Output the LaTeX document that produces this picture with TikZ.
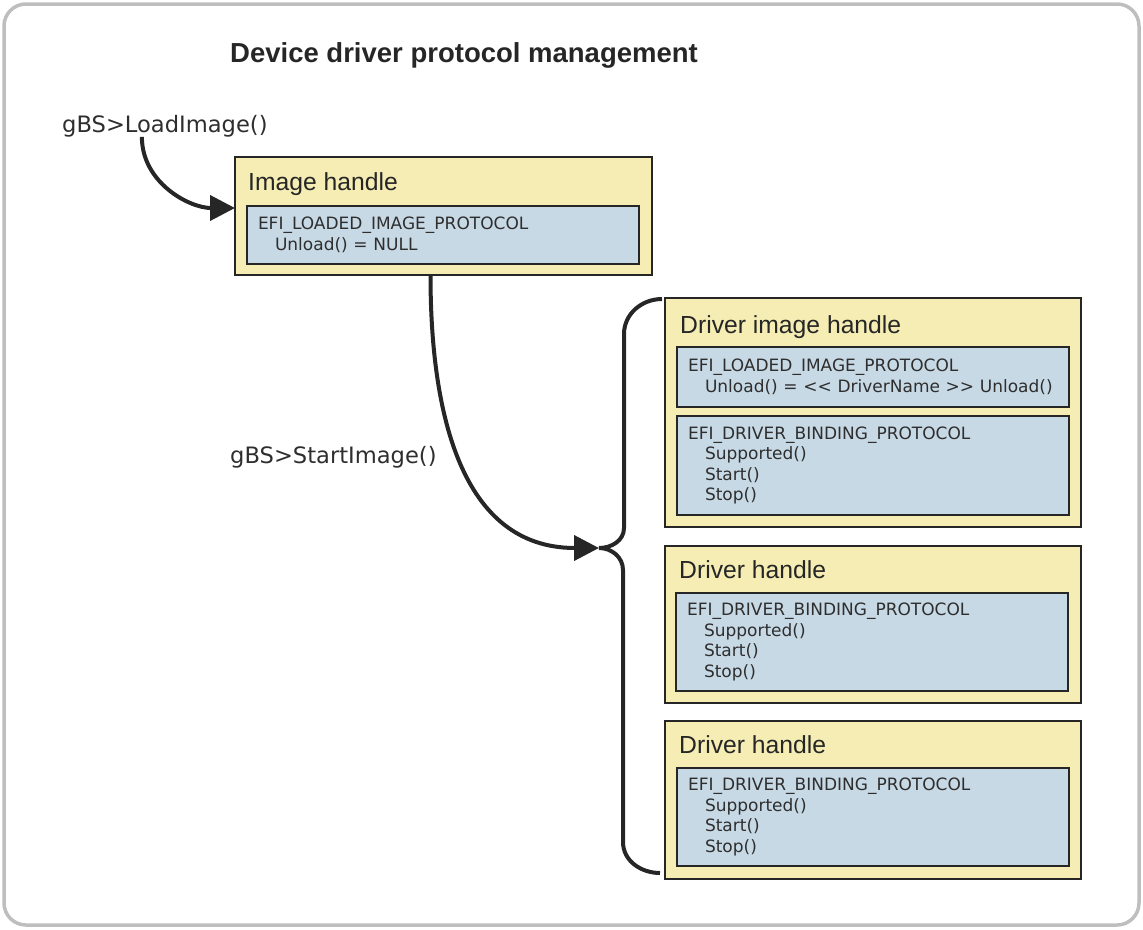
\documentclass[tikz,border=0pt]{standalone}
\usepackage{fontspec}
\setmainfont{Liberation Sans}
\newfontfamily\protofont{DejaVu Sans}
\usetikzlibrary{positioning,calc,arrows.meta}

\definecolor{handlefill}{HTML}{F5EDB3}
\definecolor{protofill}{HTML}{C8D9E6}
\definecolor{boxline}{HTML}{262626}
\definecolor{framecol}{HTML}{BEBEBE}
\definecolor{txtcol}{HTML}{2E2E2E}
\newcommand\protoind{\hspace*{17pt}}

\begin{document}
\begin{tikzpicture}[x=1pt,y=-1pt,
  frame/.style={draw=framecol,line width=3.5pt,rounded corners=22pt},
  handle/.style={draw=boxline,fill=handlefill,line width=2.6pt,anchor=north west,
    minimum width=416pt,inner sep=0pt,outer sep=0pt},
  proto/.style={draw=boxline,fill=protofill,line width=2.8pt,outer sep=0pt,
    text width=370pt,inner xsep=11pt,inner ysep=0pt,align=left,text=txtcol,
    font=\protofont\fontsize{17}{20.5}\selectfont},
  htitle/.style={anchor=base west,inner sep=0pt,text=boxline,
    font=\fontsize{24.7}{28}\selectfont},
  call/.style={anchor=base west,inner sep=0pt,text=txtcol,
    font=\protofont\fontsize{22.6}{26}\selectfont},
  flow/.style={draw=boxline,line width=4pt,-{Triangle[length=25pt,width=25pt]}},
  brace/.style={draw=boxline,line width=4pt}]
\useasboundingbox (0,0) rectangle (1143,929);
\draw[frame] (4,4) rectangle (1139,925);

\node[anchor=base west,inner sep=0pt,text=boxline,
  font=\bfseries\fontsize{27.5}{32}\selectfont] (title) at (230,62)
  {Device driver protocol management};

\node[call] (load) at (62,132) {gBS>LoadImage()};
\node[call] (start) at (230,463) {gBS>StartImage()};

% image handle
\node[handle,minimum width=417pt,minimum height=118pt] (imgh) at (235,157) {};
\node[htitle] (imghT) at ($(imgh.north west)+(13,33)$) {Image handle};
\node[proto,minimum height=58pt,below right=49pt and 12pt of imgh.north west] (imghLI)
  {EFI\_LOADED\_IMAGE\_PROTOCOL\\\protoind Unload() = NULL};

% driver image handle
\node[handle,minimum height=229pt] (dimg) at (665,298) {};
\node[htitle] (dimgT) at ($(dimg.north west)+(15,35)$) {Driver image handle};
\node[proto,minimum height=60pt,below right=49pt and 12pt of dimg.north west] (dimgLI)
  {EFI\_LOADED\_IMAGE\_PROTOCOL\\\protoind\mbox{Unload() = <{}< DriverName >{}> Unload()}};
\node[proto,minimum height=99pt,below=9pt of dimgLI] (dimgDB)
  {EFI\_DRIVER\_BINDING\_PROTOCOL\\\protoind Supported()\\\protoind Start()\\\protoind Stop()};

% driver handles
\node[handle,minimum height=157pt] (drva) at (665,546) {};
\node[htitle] (drvaT) at ($(drva.north west)+(14,32)$) {Driver handle};
\node[proto,minimum height=98pt,below right=47pt and 11pt of drva.north west] (drvaDB)
  {EFI\_DRIVER\_BINDING\_PROTOCOL\\\protoind Supported()\\\protoind Start()\\\protoind Stop()};

\node[handle,minimum height=158pt] (drvb) at (665,721) {};
\node[htitle] (drvbT) at ($(drvb.north west)+(14,32)$) {Driver handle};
\node[proto,minimum height=98pt,below right=47pt and 12pt of drvb.north west] (drvbDB)
  {EFI\_DRIVER\_BINDING\_PROTOCOL\\\protoind Supported()\\\protoind Start()\\\protoind Stop()};

\coordinate (bt) at (599,548);

\draw[flow] ([xshift=-23pt]load.south) to[out=-90,in=180] ([yshift=8pt]imgh.west);
\draw[flow] ([xshift=-13pt]imgh.south) to[out=-90,in=180,looseness=1.1] (bt);
\draw[brace] ([xshift=-3pt,yshift=-1pt]dimg.north west) to[out=180,in=90] (624,334)
  -- (624,528) to[out=-90,in=0] (bt) to[out=0,in=90] (623,570)
  -- (623,842) to[out=-90,in=180] ([xshift=-5pt,yshift=6pt]drvb.south west);
\end{tikzpicture}
\end{document}
